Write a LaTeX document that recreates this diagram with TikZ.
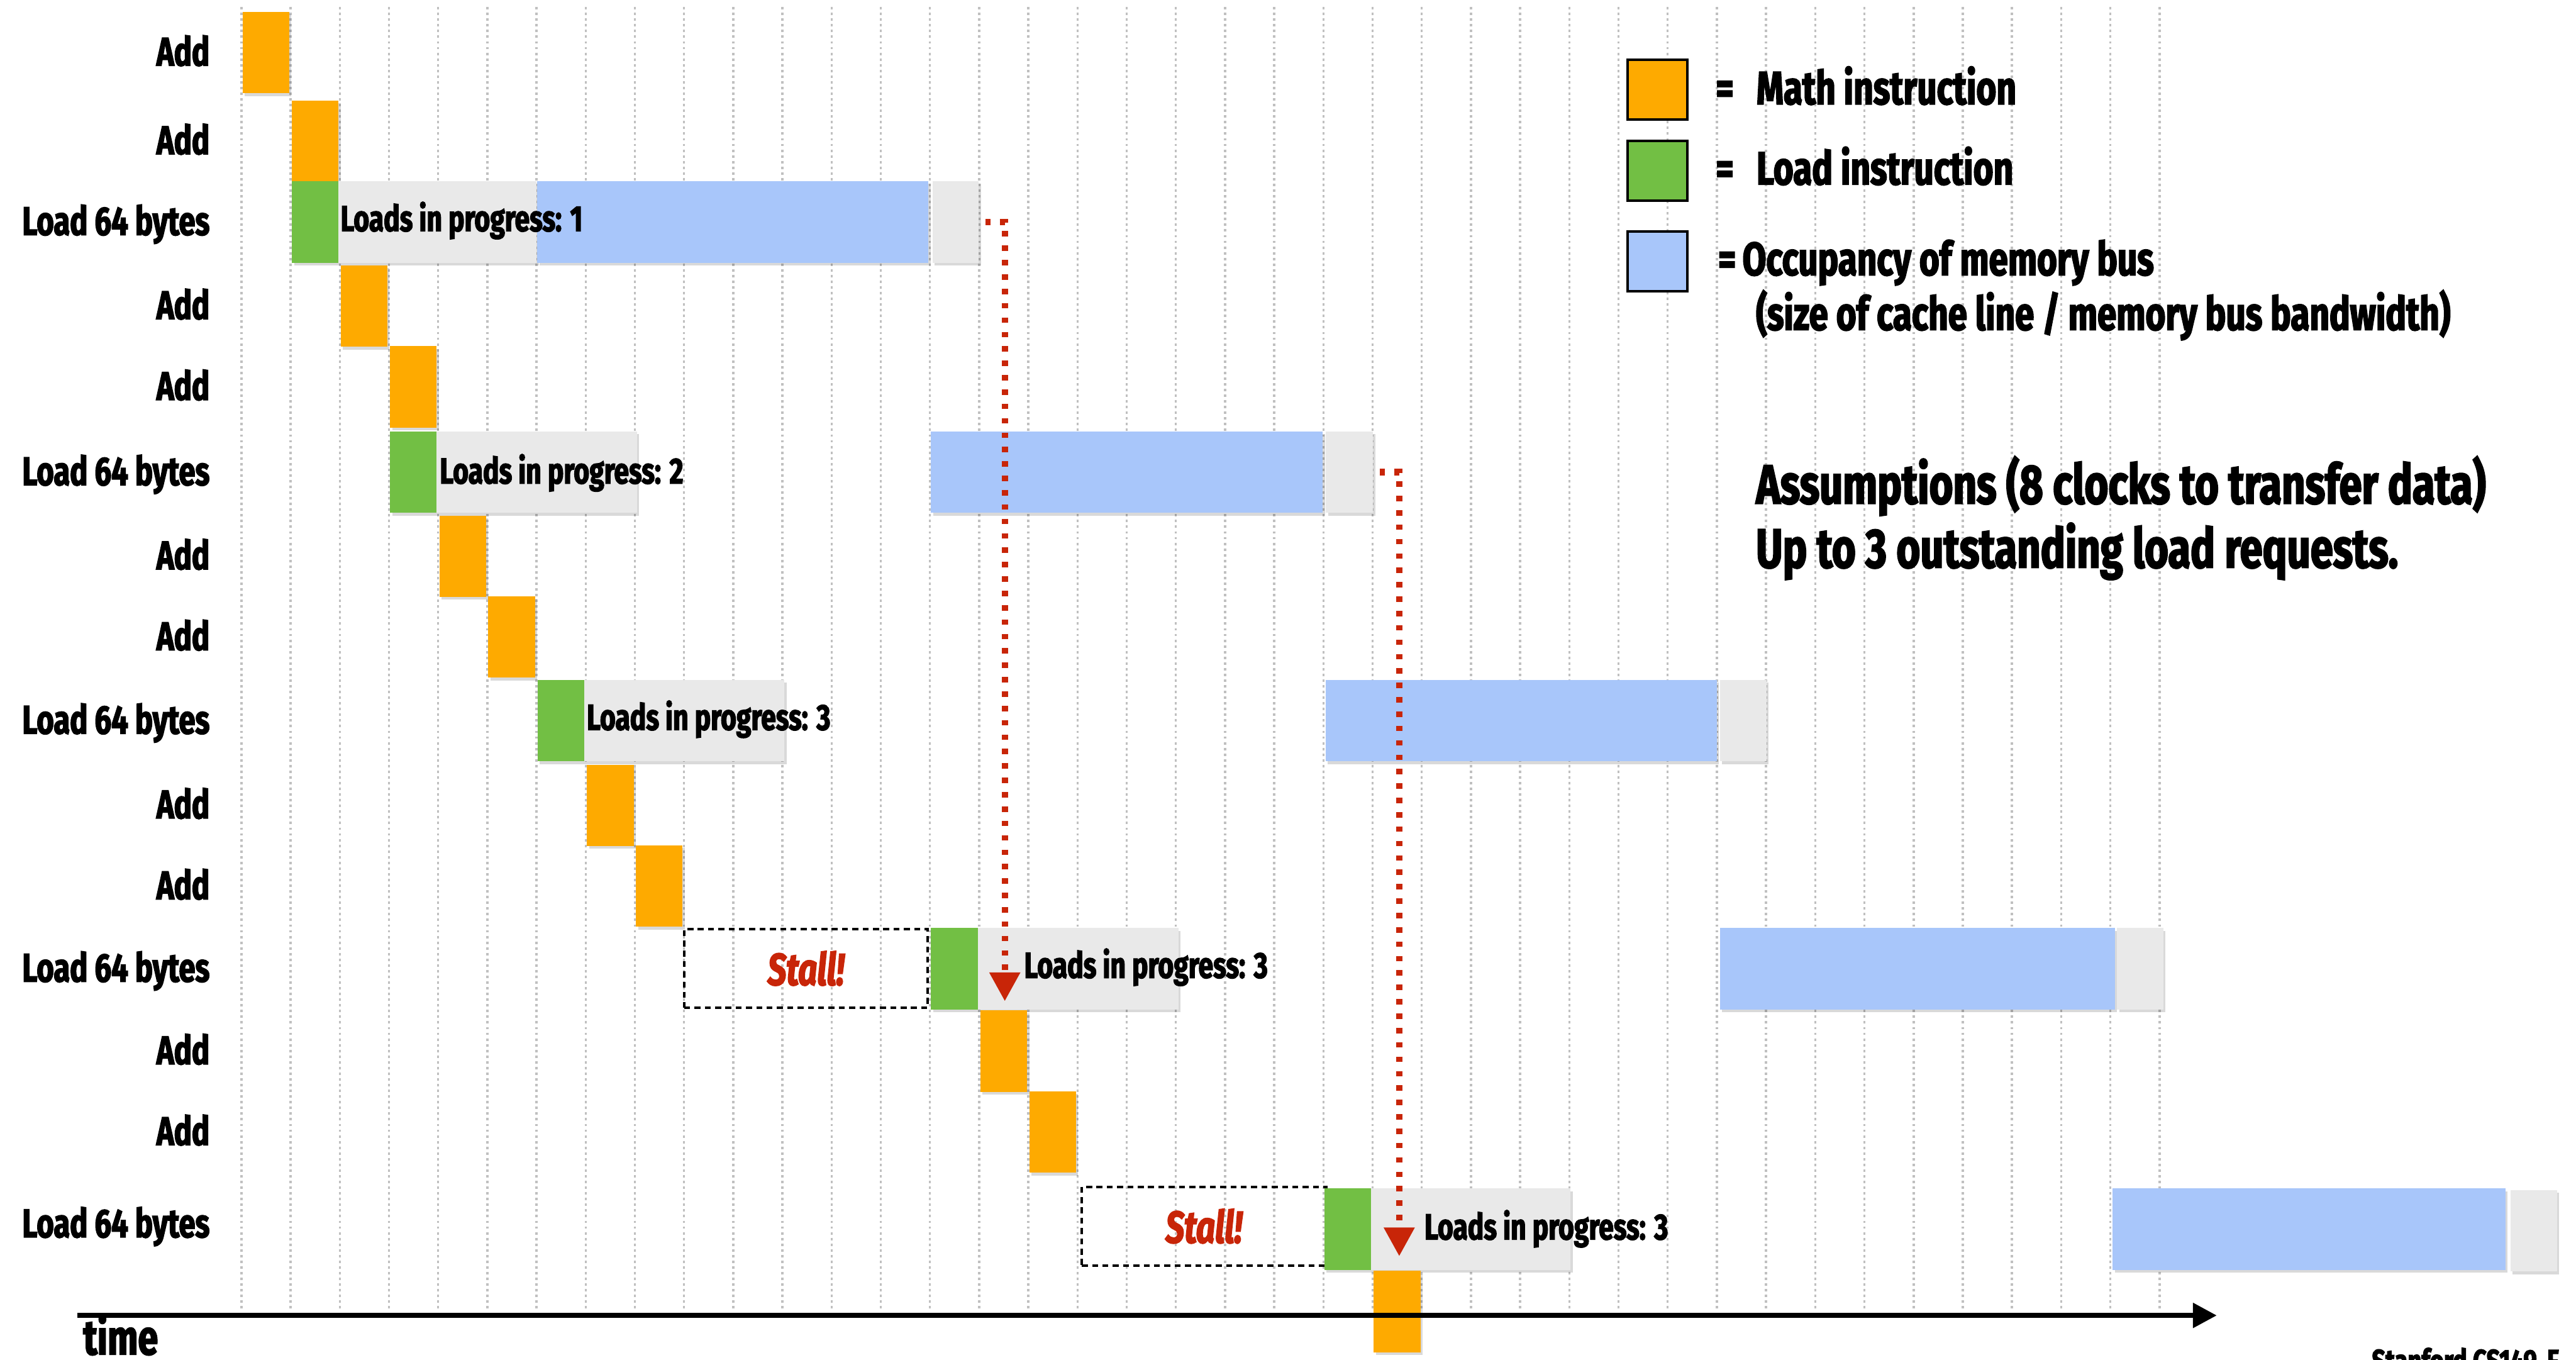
\documentclass[tikz,border=0pt]{standalone}
\usepackage{fontspec}
\setmainfont{Fira Sans}[FakeStretch=0.74,BoldFeatures={FakeBold=2.5},BoldItalicFeatures={FakeBold=2.5}]
\usepackage{tikz}
\usetikzlibrary{arrows.meta,shadows}

\definecolor{mathorange}{RGB}{254,170,0}
\definecolor{loadgreen}{RGB}{114,191,68}
\definecolor{busblue}{RGB}{168,198,250}
\definecolor{waitgray}{RGB}{233,233,233}
\definecolor{gridgray}{RGB}{192,192,192}
\definecolor{stallred}{RGB}{200,37,8}

\begin{document}
\begin{tikzpicture}[
	blk/.style={rectangle,inner sep=0pt,outer sep=0pt,anchor=north west,minimum width=0.86cm,minimum height=1.5cm,
		drop shadow={shadow xshift=0.04cm,shadow yshift=-0.05cm,fill=black,opacity=0.15}},
	mathop/.style={blk,fill=mathorange},
	loadop/.style={blk,fill=loadgreen},
	inflight/.style={blk,fill=waitgray},
	busocc/.style={blk,fill=busblue},
	stallbox/.style={rectangle,draw,line width=0.05cm,dash pattern=on 0.11cm off 0.08cm,anchor=north west,
		inner sep=0pt,outer sep=0pt,minimum height=1.45cm,text=stallred,font=\bfseries\itshape\fontsize{23.5}{28}\selectfont},
	legbox/.style={rectangle,draw,line width=0.045cm,minimum size=1.1cm,inner sep=0pt},
	instr/.style={anchor=base east,inner sep=0pt,font=\bfseries\fontsize{21}{25}\selectfont},
	progtxt/.style={anchor=base west,inner sep=0pt,font=\bfseries\fontsize{19}{23}\selectfont},
	legtxt/.style={anchor=base west,inner sep=0pt,font=\bfseries\fontsize{24.4}{29}\selectfont},
	notetxt/.style={anchor=base west,inner sep=0pt,font=\bfseries\fontsize{29}{34}\selectfont},
	stallarrow/.style={draw=stallred,line width=0.12cm,dash pattern=on 0.1cm off 0.165cm,-{Triangle[length=0.53cm,width=0.54cm]}},
	timeaxis/.style={line width=0.1cm,-{Triangle[length=0.44cm,width=0.44cm]}}
]
		\useasboundingbox (0,0) rectangle (47.48,-25.06);
%		\draw[help lines] (0,0) grid (47,-25);
		\foreach \k in {0,...,39}
			\draw[gridgray,line width=0.04cm,dash pattern=on 0.045cm off 0.06cm] ({4.45+0.9065*\k},-0.13) -- ({4.45+0.9065*\k},-24.16);

		\path (3.87,-1.21) node(lbl0) [instr] {Add};
		\path (3.87,-2.84) node(lbl1) [instr] {Add};
		\path (3.87,-4.33) node(lbl2) [instr] {Load 64 bytes};
		\path (3.87,-5.88) node(lbl3) [instr] {Add};
		\path (3.87,-7.37) node(lbl4) [instr] {Add};
		\path (3.87,-8.94) node(lbl5) [instr] {Load 64 bytes};
		\path (3.87,-10.49) node(lbl6) [instr] {Add};
		\path (3.87,-11.98) node(lbl7) [instr] {Add};
		\path (3.87,-13.52) node(lbl8) [instr] {Load 64 bytes};
		\path (3.87,-15.08) node(lbl9) [instr] {Add};
		\path (3.87,-16.57) node(lbl10) [instr] {Add};
		\path (3.87,-18.09) node(lbl11) [instr] {Load 64 bytes};
		\path (3.87,-19.61) node(lbl12) [instr] {Add};
		\path (3.87,-21.10) node(lbl13) [instr] {Add};
		\path (3.87,-22.80) node(lbl14) [instr] {Load 64 bytes};

		\path (4.47,-0.22) node(add0) [mathop] {};
		\path (5.38,-1.85) node(add1) [mathop] {};
		\path (5.38,-3.34) node(ld2) [loadop] {};
		\path (6.24,-3.34) node(wait2) [inflight,minimum width=3.65cm] {};
		\path (9.90,-3.34) node(bus2) [busocc,minimum width=7.21cm] {};
		\path (17.19,-3.34) node(end2) [inflight,minimum width=0.85cm] {};
		\path (6.27,-4.26) node(prog2) [progtxt] {Loads in progress: 1};
		\path (6.28,-4.89) node(add3) [mathop] {};
		\path (7.19,-6.38) node(add4) [mathop] {};
		\path (7.19,-7.95) node(ld5) [loadop] {};
		\path (8.05,-7.95) node(wait5) [inflight,minimum width=3.69cm] {};
		\path (17.16,-7.95) node(bus5) [busocc,minimum width=7.22cm] {};
		\path (24.44,-7.95) node(end5) [inflight,minimum width=0.87cm] {};
		\path (8.10,-8.91) node(prog5) [progtxt] {Loads in progress: 2};
		\path (8.10,-9.50) node(add6) [mathop] {};
		\path (9.00,-10.99) node(add7) [mathop] {};
		\path (9.91,-12.53) node(ld8) [loadop] {};
		\path (10.77,-12.53) node(wait8) [inflight,minimum width=3.69cm] {};
		\path (24.43,-12.53) node(bus8) [busocc,minimum width=7.21cm] {};
		\path (31.70,-12.53) node(end8) [inflight,minimum width=0.86cm] {};
		\path (10.81,-13.45) node(prog8) [progtxt] {Loads in progress: 3};
		\path (10.82,-14.09) node(add9) [mathop] {};
		\path (11.72,-15.58) node(add10) [mathop] {};
		\path (12.61,-17.12) node(stall11) [stallbox,minimum width=4.49cm] {Stall!};
		\path (17.16,-17.10) node(ld11) [loadop] {};
		\path (18.02,-17.10) node(wait11) [inflight,minimum width=3.70cm] {};
		\path (31.70,-17.10) node(bus11) [busocc,minimum width=7.28cm] {};
		\path (39.02,-17.10) node(end11) [inflight,minimum width=0.85cm] {};
		\path (18.87,-18.02) node(prog11) [progtxt] {Loads in progress: 3};
		\path (18.07,-18.62) node(add12) [mathop] {};
		\path (18.97,-20.11) node(add13) [mathop] {};
		\path (19.94,-21.87) node(stall14) [stallbox,minimum width=4.50cm] {Stall!};
		\path (24.41,-21.90) node(ld14) [loadop] {};
		\path (25.27,-21.90) node(wait14) [inflight,minimum width=3.68cm] {};
		\path (38.94,-21.90) node(bus14) [busocc,minimum width=7.24cm] {};
		\path (46.27,-21.93) node(end14) [inflight,minimum width=0.86cm] {};
		\path (26.25,-22.84) node(prog14) [progtxt] {Loads in progress: 3};
		\path (25.32,-23.42) node(add15) [mathop] {};

		\path (30.55,-1.65) node(legmath) [legbox,fill=mathorange] {};
		\path (30.55,-3.145) node(legload) [legbox,fill=loadgreen] {};
		\path (30.55,-4.815) node(legbus) [legbox,fill=busblue] {};
		\path (31.62,-1.92) node(legmathtxt) [legtxt] {=\hspace{0.42cm}Math instruction};
		\path (31.62,-3.40) node(legloadtxt) [legtxt] {=\hspace{0.42cm}Load instruction};
		\path (31.66,-5.07) node(legbustxt) [legtxt] {=\hspace{0.12cm}Occupancy of memory bus};
		\path (32.36,-6.08) node(legbusnote) [legtxt] {(size of cache line / memory bus bandwidth)};
		\path (32.36,-9.28) node(assume) [notetxt] {Assumptions (8 clocks to transfer data)};
		\path (32.36,-10.46) node(outstanding) [notetxt] {Up to 3 outstanding load requests.};

		\path (18.52,-18.45) coordinate (tip11);
		\path (25.79,-23.15) coordinate (tip14);
		\draw[stallarrow] ([xshift=0.12cm]end2.east) -| (tip11);
		\draw[stallarrow] ([xshift=0.12cm]end5.east) -| (tip14);

		\path (1.43,-24.24) coordinate (axisstart);
		\path (40.86,-24.24) coordinate (axisend);
		\draw[timeaxis] (axisstart) -- (axisend);
		\path (1.53,-24.96) node(timelbl) [anchor=base west,inner sep=0pt,font=\bfseries\fontsize{25.6}{30}\selectfont] {time};
		\path (43.71,-25.29) node(footer) [anchor=base west,inner sep=0pt,font=\bfseries\fontsize{17}{20}\selectfont] {Stanford CS149, F};
	\end{tikzpicture}
\end{document}
